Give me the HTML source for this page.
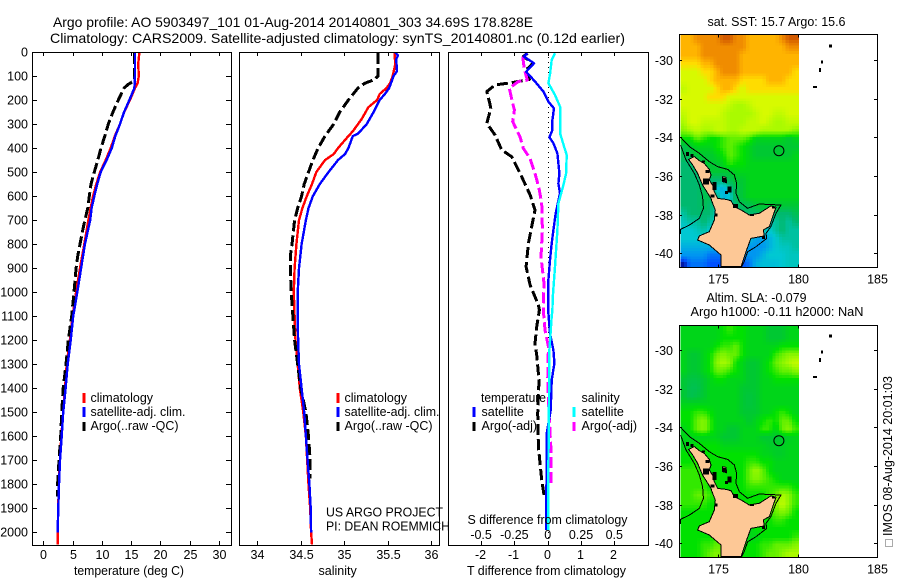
<!DOCTYPE html>
<html lang="en">
<head>
<meta charset="utf-8">
<title>Argo profile 5903497_101</title>
<style>
html,body{margin:0;padding:0;background:#fff;width:900px;height:580px;overflow:hidden}
svg{display:block}
text{font-family:"Liberation Sans",sans-serif;font-size:12.5px;fill:#000}
.title{font-size:14px}
.frame{fill:none;stroke:#000;stroke-width:1;shape-rendering:crispEdges}
.mk{stroke-width:3;shape-rendering:crispEdges}
</style>
</head>
<body>
<svg id="chart" xmlns="http://www.w3.org/2000/svg" width="900" height="580" viewBox="0 0 900 580">
  <defs>
    <clipPath id="clip-map-top"><rect x="680" y="35" width="197" height="232"/></clipPath>
    <clipPath id="clip-map-bottom"><rect x="680" y="326" width="197" height="231"/></clipPath>
    <clipPath id="clip-p1"><rect x="32" y="52" width="199" height="493"/></clipPath>
    <clipPath id="clip-p2"><rect x="239" y="52" width="200" height="493"/></clipPath>
    <clipPath id="clip-p3"><rect x="448" y="52" width="200" height="493"/></clipPath>
  </defs>

  <text class="title" x="53" y="27" textLength="480" lengthAdjust="spacingAndGlyphs">Argo profile: AO 5903497_101 01-Aug-2014 20140801_303 34.69S 178.828E</text>
  <text class="title" x="50" y="43" textLength="575" lengthAdjust="spacingAndGlyphs">Climatology: CARS2009. Satellite-adjusted climatology: synTS_20140801.nc (0.12d earlier)</text>

  <g id="map-top"></g>
  <g id="map-bottom"></g>
  <g id="panel-temp"></g>
  <g id="panel-sal"></g>
  <g id="panel-diff"></g>

  <rect class="frame" x="32.5" y="52.5" width="199" height="493"/>
  <rect class="frame" x="239.5" y="52.5" width="200" height="493"/>
  <rect class="frame" x="448.5" y="52.5" width="200" height="493"/>
  <rect class="frame" x="679.5" y="34.5" width="198" height="233"/>
  <rect class="frame" x="679.5" y="325.5" width="198" height="232"/>

  <g>
    <line class="mk" x1="84" x2="84" y1="393" y2="403" stroke="#f00"/>
    <line class="mk" x1="84" x2="84" y1="407" y2="417" stroke="#00f"/>
    <line class="mk" x1="84" x2="84" y1="422" y2="431" stroke="#000"/>
    <text x="90.5" y="402">climatology</text>
    <text x="90.5" y="416" textLength="95" lengthAdjust="spacingAndGlyphs">satellite-adj. clim.</text>
    <text x="90.5" y="430" textLength="88" lengthAdjust="spacingAndGlyphs">Argo(..raw -QC)</text>
  </g>
  <g>
    <line class="mk" x1="338" x2="338" y1="393" y2="403" stroke="#f00"/>
    <line class="mk" x1="338" x2="338" y1="407" y2="417" stroke="#00f"/>
    <line class="mk" x1="338" x2="338" y1="422" y2="431" stroke="#000"/>
    <text x="344.5" y="402">climatology</text>
    <text x="344.5" y="416" textLength="95" lengthAdjust="spacingAndGlyphs">satellite-adj. clim.</text>
    <text x="344.5" y="430" textLength="88" lengthAdjust="spacingAndGlyphs">Argo(..raw -QC)</text>
  </g>
  <g>
    <text x="481" y="402" textLength="65" lengthAdjust="spacingAndGlyphs">temperature</text>
    <line class="mk" x1="474" x2="474" y1="407" y2="417" stroke="#00f"/>
    <line class="mk" x1="474" x2="474" y1="422" y2="431" stroke="#000"/>
    <text x="481.5" y="416">satellite</text>
    <text x="481.5" y="430">Argo(-adj)</text>
    <text x="581.5" y="402">salinity</text>
    <line class="mk" x1="574" x2="574" y1="407" y2="417" stroke="#0ff"/>
    <line class="mk" x1="574" x2="574" y1="422" y2="431" stroke="#f0f"/>
    <text x="581.5" y="416">satellite</text>
    <text x="581.5" y="430">Argo(-adj)</text>
  </g>

  <text x="326" y="516.5" textLength="117" lengthAdjust="spacingAndGlyphs">US ARGO PROJECT</text>
  <text x="326" y="530.5" textLength="124" lengthAdjust="spacingAndGlyphs">PI: DEAN ROEMMICH</text>
  <text x="467.5" y="524" textLength="160" lengthAdjust="spacingAndGlyphs">S difference from climatology</text>
  <text x="74" y="575" textLength="110" lengthAdjust="spacingAndGlyphs">temperature (deg C)</text>
  <text x="318.5" y="575">salinity</text>
  <text x="467" y="575" textLength="159" lengthAdjust="spacingAndGlyphs">T difference from climatology</text>

  <text x="707.5" y="26" textLength="138" lengthAdjust="spacingAndGlyphs">sat. SST: 15.7 Argo: 15.6</text>
  <text x="706.5" y="302" textLength="100" lengthAdjust="spacingAndGlyphs">Altim. SLA: -0.079</text>
  <text x="690.5" y="316" textLength="173" lengthAdjust="spacingAndGlyphs">Argo h1000: -0.11 h2000: NaN</text>

  <rect x="885.5" y="539.5" width="7" height="7" fill="none" stroke="#555" stroke-width="1" stroke-dasharray="1 1" shape-rendering="crispEdges"/>
  <text transform="translate(892,536) rotate(-90)" textLength="160" lengthAdjust="spacingAndGlyphs">IMOS 08-Aug-2014 20:01:03</text>
</svg>

<script>
/* ---------- profile data ---------- */
const depthTicks = [0,100,200,300,400,500,600,700,800,900,1000,1100,1200,1300,1400,1500,1600,1700,1800,1900,2000];
const tempTicks = [0,5,10,15,20,25,30];
const salTicks = [34,34.5,35,35.5,36];
const salTickLabels = ['34','34.5','35','35.5','36'];
const tDiffTicks = [-2,-1,0,1,2];
const sDiffTicks = [-0.5,-0.25,0,0.25,0.5];
const sDiffTickLabels = ['-0.5','-0.25','0','0.25','0.5'];

const tempClimDepth = [0,50,100,130,150,200,250,300,350,400,450,500,550,600,650,700,800,900,1000,1100,1200,1300,1400,1500,1600,1700,1800,1900,2000,2050];
const tempClim = [16.4,16.2,16.3,16.1,15.65,14.8,13.8,13.1,12.2,11.5,10.65,9.7,9.05,8.5,8.1,7.7,7.0,6.27,5.6,5.0,4.55,4.0,3.7,3.4,3.07,2.85,2.63,2.56,2.45,2.45];
const tempSatDepth = [0,100,150,200,250,300,350,400,450,500,550,600,650,700,800,900,1000,1100,1200,1300,1400,1500,1600,1700,1800,1900,2000];
const tempSat = [15.65,15.65,15.55,14.7,13.8,13.1,12.3,11.7,10.8,9.8,9.2,8.7,8.25,8.0,7.1,6.45,5.8,5.1,4.67,4.16,3.8,3.4,3.14,2.85,2.68,2.56,2.45];
const tempArgoDepth = [5,60,115,123,135,150,200,250,300,350,400,450,500,550,600,650,700,750,800,850,900,1000,1100,1200,1300,1400,1500,1600,1700,1800,1850];
const tempArgo = [15.6,15.6,15.6,15.3,14.5,13.8,12.8,11.9,11.1,10.5,9.85,9.3,8.7,8.15,7.85,7.6,7.1,6.66,6.27,5.87,5.6,5.24,4.85,4.27,3.88,3.4,3.14,2.97,2.68,2.45,2.4];

const salClimDepth = [0,50,100,130,150,175,200,230,280,330,350,400,425,450,500,550,600,650,700,800,900,1000,1100,1200,1300,1400,1500,1600,1700,1800,1900,2000,2050];
const salClim = [35.58,35.59,35.56,35.53,35.49,35.41,35.38,35.28,35.2,35.1,35.05,34.93,34.88,34.78,34.68,34.63,34.57,34.52,34.48,34.45,34.43,34.42,34.43,34.44,34.465,34.49,34.53,34.56,34.575,34.59,34.61,34.62,34.63];
const salSatDepth = [0,15,30,80,100,150,175,200,250,300,340,350,400,425,450,500,550,600,650,700,800,900,1000,1100,1200,1300,1400,1500,1600,1700,1800,1900,2000];
const salSat = [35.59,35.62,35.6,35.61,35.57,35.52,35.47,35.41,35.34,35.26,35.16,35.1,35.05,35.01,34.93,34.82,34.72,34.64,34.59,34.56,34.51,34.48,34.465,34.465,34.47,34.48,34.51,34.54,34.56,34.58,34.6,34.615,34.62];
const salArgoDepth = [5,100,115,130,150,200,250,300,350,400,450,500,550,600,650,700,800,850,900,1000,1100,1200,1300,1400,1500,1600,1700,1775];
const salArgo = [35.39,35.39,35.35,35.24,35.16,35.05,34.95,34.88,34.78,34.7,34.64,34.59,34.54,34.51,34.465,34.43,34.4,34.38,34.38,34.39,34.41,34.43,34.465,34.5,34.56,34.59,34.61,34.61];

const dTSatDepth = [5,19,47,82,123,165,207,235,283,325,355,380,422,505,547,588,672,741,797,866,949,1032,1088,1171,1241,1296,1366,1491,1588,1699,1990];
const dTSat = [-0.61,-0.71,-0.41,-0.65,-0.38,-0.13,0.02,0.19,0.14,0.14,0.05,0.17,0.29,0.35,0.32,0.37,0.24,0.17,0.12,0.07,0.02,0.02,0.02,0.07,0.17,0.2,0.12,0.09,-0.03,-0.03,-0.05];
const dTArgoDepth = [5,19,47,78,114,128,137,165,207,235,297,346,408,436,505,595,658,727,797,894,970,1053,1074,1144,1213,1261,1366,1504,1643,1782,1844];
const dTArgo = [-0.61,-0.73,-0.43,-0.68,-0.55,-1.08,-1.58,-1.83,-1.75,-1.71,-1.83,-1.58,-1.38,-1.08,-0.83,-0.53,-0.38,-0.48,-0.58,-0.65,-0.53,-0.28,-0.25,-0.33,-0.38,-0.33,-0.26,-0.3,-0.28,-0.18,-0.11];
const dSSatDepth = [5,33,89,130,179,228,339,394,429,505,554,630,741,894,1019,1074,1102,1241,1449,1727,1990];
const dSSat = [0.055,0.03,0.018,0.005,0.055,0.093,0.093,0.123,0.143,0.138,0.118,0.08,0.073,0.055,0.038,0.035,0.03,0.013,0.01,0.005,0.005];
const dSArgoDepth = [19,61,82,117,123,151,214,241,290,353,401,443,505,568,630,741,852,963,1060,1074,1157,1227,1366,1504,1643,1810];
const dSArgo = [-0.188,-0.178,-0.17,-0.153,-0.22,-0.288,-0.263,-0.25,-0.263,-0.208,-0.183,-0.133,-0.095,-0.065,-0.045,-0.04,-0.05,-0.028,-0.033,-0.033,-0.02,0.005,0,0.01,0.023,0.023];

/* ---------- map data: colour-scale values, 18 columns x 28 rows ---------- */
const sstGrid = [
[11,11,12,12,12,12,13,13,12,12,11,11,11,11,11,12,13,13],
[11,11,11,12,12,12,12,12,12,12,11,11,11,11,11,11,12,12],
[11,11,11,12,12,12,12,12,12,11,11,11,11,11,11,11,11,11],
[10,10,10,11,11,12,12,12,12,11,11,11,11,11,11,11,11,11],
[9,9,9,10,10,11,12,12,12,11,11,11,11,11,11,11,11,10],
[9,9,9,9,10,11,11,11,11,10,10,10,10,11,11,11,10,10],
[8.5,9,9,9,9,10,11,11,10,9,10,10,10,10,10,10,10,10],
[9,9,9,9,10,10,10,9,9,9,9,9,9,9,9,9,9,9],
[9,9,9,9,9,9,9,8.5,8,8,8.5,9,9,9,9,9,9,9],
[8.5,9,9,9,9,9,8.5,8,8,8,8,8.5,9,9,8.5,8.5,9,9],
[8,9,9,8.5,8.5,8.5,8.5,8,8,8,8.5,8.5,9,8.5,8,8,8.5,8.5],
[7.5,8,8.5,8,8,8.5,8.5,8,8,8.5,8.5,8.5,8,8,8,8,8,7.5],
[6,6,7,6.5,6,6,6.5,7,7,7,6.5,5.5,5.5,5.5,5.5,5.5,5,5.5],
[4.5,5,5.5,5.5,5.5,6,6.5,7,6.5,6,5.5,5,5,5,5,5,5,5],
[4.5,4.5,5,5,5,5.5,6,7,6.5,6,5.5,5,5,5,5,5,5,5.5],
[4,4,4.5,5,5,5,5.5,6.5,6,6,5.5,5.5,5.5,5.5,5.5,5.5,5.5,5.5],
[4,4,4,4,5,5,5,5,5.5,5.5,5.5,5.5,5.5,5.5,5.5,5.5,5.5,5.5],
[4,4,4,4,4,4,4,4.5,5,5,5.5,5.5,5.5,5.5,5.5,5.5,5.5,5.5],
[4,4,4,4.5,4.5,3,2.5,3.5,4.5,5,5.5,5.5,5.5,5.5,5.5,5.5,5.5,5.5],
[4,4,4,4.5,4.5,4,2.5,3,4.5,5,5.5,5.5,5.5,5.5,5.5,5.5,5.5,5.5],
[4,4,4,4.5,4,3.5,3,3.5,4,4.5,4.5,5,5,5,5,5,5,5],
[3.5,4,4,4,4,3,3,3.5,3.5,4,4,4,4.5,4.5,4,4,4,4.5],
[3.2,3.5,3.5,4,3.5,3,3,3.5,3.5,3.5,4,4,4,3.5,3.5,4,3.5,4],
[3,3,3.2,3.5,3,3,3,3,3.5,3.5,3.5,3.5,3.5,3,3.5,4,3.5,3.5],
[3,3,3,3,2.8,2.8,3,3,3.5,3,3,2.2,2.2,2.5,3,3.5,3.5,3.5],
[2.5,2.5,2.5,2.5,2.5,2.5,2.5,3,3,2.5,2,2,2,2.5,3,3.2,3.2,3.5],
[2,2,2,2,1.5,1.5,1.5,1.5,2,2,2,2,2.5,3,3,3,3.2,3.2],
[0.3,1.5,1.5,1.5,1,1,1,1,1,1,1.5,2.5,2.8,2.8,2.8,3,3.2,3.2]
];
const slaGrid = [
[5.5,5.5,5.5,5.5,5.5,5.5,6,6.5,6,6,5.5,5.5,5.5,5,5,5,5.5,5.5],
[5.5,5.5,5.5,5.5,5.5,5.5,6,6,6,6,5.5,5.5,5.5,5,5,5,5.5,5.5],
[5.5,5.5,5.5,5.5,5.5,6,6.5,6.5,7,6,5.5,5.5,5.5,5.5,5.5,6,6,6],
[5.5,5,5,5.5,6,7,7.5,7,7,6,5.5,5.5,5.5,5.5,6.5,7,7.5,7.5],
[5.5,5,5,5.5,6,7.5,8,7.5,6,5.5,5,5,5.5,6,7,7.5,8,8.5],
[5.5,5,5,5.5,6,7,7,6.5,6,5.5,5,5,5.5,6,6.5,7,7,7.5],
[5,4.7,4.7,5,5.5,6,6,5.5,5.5,5.5,5,5,5.5,5.5,6,6,6,6],
[5,4.5,4.5,5,5.5,5.5,5.5,5.5,5.5,5,5,5,5.5,5.5,5.5,5.5,5.5,5.5],
[5,4.5,4.7,5,5.5,5.5,5.5,5.5,5.5,5,4.8,5,5.5,5.5,5.5,5.5,5.5,5.5],
[5.5,5.5,5.5,5.5,5.5,5.5,5.5,5.5,5.5,5,4.8,5,5.5,5.5,5.5,5.5,5.5,5.5],
[6,6,6.5,6.5,6,5.5,5.5,5.5,5.5,5,5,5,5.5,5.5,6,6.5,6,5.5],
[6,6,7,7.5,6.5,5.5,5.5,5.5,5.5,5.5,5,5.5,6,6.5,6,7,7,6],
[5.5,6,7,7.5,6.5,5.5,5.5,5,5,5.5,5.5,5.5,6.5,6.5,5.5,7,7.5,6.5],
[5.5,5.5,5.5,5.5,5.5,5.5,5,5,5,5.5,5.5,5.5,5,5,5,5,5.3,5.5],
[5.5,5.5,6,6,6,6,5.5,5.5,5.5,5.5,5.5,5.5,5.5,5.2,5.2,5.2,5.5,5.5],
[6,6,6,6,6,6,6,6,6,6,6,6,5.5,5.5,5.2,5.2,5.5,5.5],
[6,6,6.5,6,6,6,6,6,6,6,6.5,6.5,6,6,5.5,5.5,5.5,5.5],
[6.5,6.5,6.5,6,6,6,6,6,6,6,7,7.8,7,6,5.5,5.5,5.5,5.5],
[6.5,6.5,6.5,6.5,6,6,6,6,6,6,7,7.5,7,6.5,6,5.5,5.5,5.5],
[6.5,6.5,6.5,6.5,6,6,6,6,6,6,6.5,6.5,6.5,6.5,6.5,6.5,6.5,6],
[6.5,6.5,7,7,6.5,6,6,6,6,6,6,6,6,6.5,7,8,7.5,6.5],
[6.5,6.5,6.5,6.5,6,6,6,6,6,6,6,6,6,6.5,7.5,8.5,7.5,6.5],
[6,6,6,6,6,6,6,6,6,6,6,6,6,6.5,7,7.5,7,6],
[6,6,6,6,6,6,6,6,6,6,6,6,6,6,6.5,6.5,6,6],
[6,6,6,6,6,6,6,6,6,5.8,5.5,6,6,6,6,6,6,6],
[6,6,6,6,6,6.5,6.5,6,5.5,5.5,5.5,5.5,6,6,6,6,6,6.5],
[6,6,6,6.5,6.5,7,7,6.5,6,6,6,6,6.5,6.5,7,7,7,7.5],
[6,6,6,6.5,7,7.5,7,7,6,6,6,6,6.5,7,7,7.5,8,8]
];
const mapLonTicks = [175,180,185];
const mapLatTicks = [-30,-32,-34,-36,-38,-40];

/* ---------- geography (lon, lat) ---------- */
const landLon = [173.15,173.51,173.83,174.14,174.45,174.56,174.45,174.71,174.77,174.98,175.5,175.82,176.03,176.45,176.97,177.6,178.33,178.65,178.44,178.23,177.85,177.91,177.07,176.8,176.45,175.19,175.19,174.45,173.72,173.83,174.45,174.77,174.83,174.62,174.56,174.03,173.72,173.41];
const landLat = [-35.14,-35.0,-35.21,-35.35,-35.66,-35.95,-36.21,-36.55,-36.81,-37.16,-37.21,-37.28,-37.59,-37.76,-38.02,-37.93,-37.55,-37.62,-38.1,-38.62,-38.79,-39.1,-39.23,-39.83,-40.69,-40.69,-40.09,-39.57,-39.31,-39.1,-38.88,-38.28,-37.76,-37.33,-37.16,-36.47,-35.86,-35.43];
const peninsulaLon = [175.29,175.5,175.54,175.29];
const peninsulaLat = [-36.04,-36.07,-36.35,-36.29];
const contourEastLon = [172.65,173.2,173.83,174.45,174.98,175.61,176.03,176.17,176.13,176.34,176.86,177.6,178.33,178.96,178.65,178.33,178.02,178.06,177.39,176.86,176.65,176.45];
const contourEastLat = [-34.0,-34.48,-34.83,-35.26,-35.52,-35.66,-35.95,-36.38,-36.9,-37.33,-37.67,-37.45,-37.48,-37.5,-37.93,-38.62,-38.97,-39.23,-39.66,-39.92,-40.43,-40.73];
const contourWestLon = [172.65,172.99,173.51,173.83,174.03,174.08,173.83,173.2,172.65,172.65];
const contourWestLat = [-34.4,-35.17,-35.86,-36.47,-37.07,-37.67,-38.19,-38.54,-38.76,-39.0];
const blobLon = [173.09,173.36,174.08,174.35,174.24,174.77,174.66,175.4,175.71,175.54,176.09,177.14,178.48,177.85,174.87];
const blobLat = [-34.86,-34.93,-35.26,-35.78,-36.29,-36.52,-37.04,-36.21,-36.69,-36.86,-37.55,-38.02,-37.62,-39.17,-38.02];
const blobWidths = [3,3,3,4,6,4,4,3,4,3,5,4,3,3,3];
const blobHeights = [4,3,2,3,6,8,3,4,6,3,4,2,2,3,3];
const islandLon = [182.09,181.54,181.41,181.1];
const islandLat = [-29.28,-30.1,-30.52,-31.4];
const islandWidths = [3,2,2,4];
const islandHeights = [3,3,4,2];
const floatLon = 178.828;
const floatLat = -34.69;

/* ---------- colour scale stops ---------- */
const scaleR = [0,0,0,0,0,0,0,100,170,215,255,255,240,210];
const scaleG = [0,80,150,200,185,200,225,240,250,250,220,180,140,90];
const scaleB = [128,255,240,210,110,50,0,0,0,0,0,0,0,0];

/* ---------- axis functions ---------- */
const yDepth = d => 52 + 0.2402 * d;
const xTemp = t => 43.3 + 5.857 * t;
const xSal = s => 257.3 + 86.8 * (s - 34);
const xDT = t => 547.7 + 33.3 * t;
const xDS = s => 547.7 + 133.2 * s;
const lonX = lon => 718 + 15.9 * (lon - 175);
const latY = (lat, y30) => y30 + 19.33 * (-30 - lat);

const NS = 'http://www.w3.org/2000/svg';
function mk(tag, parent) {
  const el = document.createElementNS(NS, tag);
  parent.appendChild(el);
  return el;
}
function colourFor(v) {
  const i = Math.max(0, Math.min(scaleR.length - 2, Math.floor(v)));
  const f = Math.max(0, Math.min(1, v - i));
  const m = (a) => Math.round(a[i] + (a[i + 1] - a[i]) * f);
  return 'rgb(' + m(scaleR) + ',' + m(scaleG) + ',' + m(scaleB) + ')';
}
function polyPoints(xs, ys, fx, fy) {
  return xs.map((x, i) => fx(x).toFixed(1) + ',' + fy(ys[i]).toFixed(1)).join(' ');
}
function drawProfile(parent, clip, name, xs, ds, fx, colour, width, dash) {
  const line = mk('polyline', parent);
  
  
  line.setAttribute('points', polyPoints(xs, ds, fx, yDepth));
  line.setAttribute('fill', 'none');
  line.setAttribute('stroke', colour);
  line.setAttribute('stroke-width', width);
  line.setAttribute('stroke-linejoin', 'round');
  line.setAttribute('shape-rendering', 'crispEdges');
  line.setAttribute('clip-path', 'url(#' + clip + ')');
  if (dash) line.setAttribute('stroke-dasharray', dash);
}
function tick(parent, x1, y1, x2, y2) {
  const t = mk('line', parent);
  
  
  t.setAttribute('x1', x1);
  t.setAttribute('y1', y1);
  t.setAttribute('x2', x2);
  t.setAttribute('y2', y2);
  t.setAttribute('stroke', '#000');
  t.setAttribute('shape-rendering', 'crispEdges');
}
function label(parent, str, x, y, anchor) {
  const t = mk('text', parent);
  
  
  t.setAttribute('x', x);
  t.setAttribute('y', y);
  t.setAttribute('text-anchor', anchor);
  t.textContent = str;
}

/* ---------- temperature panel ---------- */
const pT = document.getElementById('panel-temp');
drawProfile(pT, 'clip-p1', 'temperature-climatology-line', tempClim, tempClimDepth, xTemp, '#f00', 2.4);
drawProfile(pT, 'clip-p1', 'temperature-argo-line', tempArgo, tempArgoDepth, xTemp, '#000', 3, '11 4');
drawProfile(pT, 'clip-p1', 'temperature-satellite-line', tempSat, tempSatDepth, xTemp, '#00f', 2.4);
depthTicks.forEach(d => {
  const y = Math.round(yDepth(d)) + 0.5;
  tick(pT, 32, y, 37, y);
  tick(pT, 226, y, 231, y);
  label(pT, String(d), 28, y + 4, 'end');
});
tempTicks.forEach(t => {
  const x = Math.round(xTemp(t)) + 0.5;
  tick(pT, x, 52, x, 56);
  tick(pT, x, 541, x, 545);
  label(pT, String(t), x, 559, 'middle');
});

/* ---------- salinity panel ---------- */
const pS = document.getElementById('panel-sal');
drawProfile(pS, 'clip-p2', 'salinity-climatology-line', salClim, salClimDepth, xSal, '#f00', 2.4);
drawProfile(pS, 'clip-p2', 'salinity-argo-line', salArgo, salArgoDepth, xSal, '#000', 3, '11 4');
drawProfile(pS, 'clip-p2', 'salinity-satellite-line', salSat, salSatDepth, xSal, '#00f', 2.4);
salTicks.forEach((s, i) => {
  const x = Math.round(xSal(s)) + 0.5;
  tick(pS, x, 52, x, 56);
  tick(pS, x, 541, x, 545);
  label(pS, salTickLabels[i], x, 559, 'middle');
});

/* ---------- difference panel ---------- */
const pD = document.getElementById('panel-diff');
const zero = mk('line', pD);


zero.setAttribute('x1', 548.5);
zero.setAttribute('x2', 548.5);
zero.setAttribute('y1', 52);
zero.setAttribute('y2', 545);
zero.setAttribute('stroke', '#000');
zero.setAttribute('stroke-dasharray', '1 4');
zero.setAttribute('shape-rendering', 'crispEdges');
drawProfile(pD, 'clip-p3', 't-argo-difference-line', dTArgo, dTArgoDepth, xDT, '#000', 3, '11 4');
drawProfile(pD, 'clip-p3', 's-argo-difference-line', dSArgo, dSArgoDepth, xDS, '#f0f', 3, '11 4');
drawProfile(pD, 'clip-p3', 't-satellite-difference-line', dTSat, dTSatDepth, xDT, '#00f', 2.4);
drawProfile(pD, 'clip-p3', 's-satellite-difference-line', dSSat, dSSatDepth, xDS, '#0ff', 2.4);
tDiffTicks.forEach(t => {
  const x = Math.round(xDT(t)) + 0.5;
  tick(pD, x, 52, x, 56);
  tick(pD, x, 541, x, 545);
  label(pD, String(t), x - 1, 559, 'middle');
});
sDiffTicks.forEach((s, i) => {
  label(pD, sDiffTickLabels[i], xDS(s), 539, 'middle');
});

/* ---------- maps ---------- */
function sampleGrid(grid, r, c) {
  const rows = grid.length;
  const cols = grid[0].length;
  const r0 = Math.max(0, Math.min(rows - 1, Math.floor(r)));
  const c0 = Math.max(0, Math.min(cols - 1, Math.floor(c)));
  const r1 = Math.min(rows - 1, r0 + 1);
  const c1 = Math.min(cols - 1, c0 + 1);
  const fr = Math.max(0, Math.min(1, r - r0));
  const fc = Math.max(0, Math.min(1, c - c0));
  const top = grid[r0][c0] * (1 - fc) + grid[r0][c1] * fc;
  const bot = grid[r1][c0] * (1 - fc) + grid[r1][c1] * fc;
  return top * (1 - fr) + bot * fr;
}
function drawMap(id, grid, top, bottom, y30, clip, prefix) {
  const g = document.getElementById(id);
  const subCols = 2;
  const subRows = 3;
  const rows = grid.length * subRows;
  const cols = grid[0].length * subCols;
  const lonL = 172.65;
  const lonR = 180.07;
  const cw = (lonX(lonR) - lonX(lonL)) / cols;
  const ch = (bottom - top) / rows;
  for (let r = 0; r < rows; r++) {
    for (let c = 0; c < cols; c++) {
      const v = sampleGrid(grid, (r + 0.5) / subRows - 0.5, (c + 0.5) / subCols - 0.5);
      const cell = mk('rect', g);
      
      
      cell.setAttribute('x', (lonX(lonL) + c * cw).toFixed(2));
      cell.setAttribute('y', (top + r * ch).toFixed(2));
      cell.setAttribute('width', (cw + 0.4).toFixed(2));
      cell.setAttribute('height', (ch + 0.4).toFixed(2));
      cell.setAttribute('fill', colourFor(v));
      cell.setAttribute('shape-rendering', 'crispEdges');
    }
  }
  const fy = lat => latY(lat, y30);
  const land = mk('polygon', g);
  
  
  land.setAttribute('points', polyPoints(landLon, landLat, lonX, fy));
  land.setAttribute('fill', '#fdc896');
  land.setAttribute('stroke', '#000');
  land.setAttribute('stroke-width', 1);
  land.setAttribute('shape-rendering', 'crispEdges');
  land.setAttribute('clip-path', 'url(#' + clip + ')');
  const pen = mk('polygon', g);
  
  
  pen.setAttribute('points', polyPoints(peninsulaLon, peninsulaLat, lonX, fy));
  pen.setAttribute('fill', '#fdc896');
  pen.setAttribute('stroke', '#000');
  pen.setAttribute('shape-rendering', 'crispEdges');
  const cE = mk('polyline', g);
  
  
  cE.setAttribute('points', polyPoints(contourEastLon, contourEastLat, lonX, fy));
  cE.setAttribute('fill', 'none');
  cE.setAttribute('stroke', '#000');
  cE.setAttribute('shape-rendering', 'crispEdges');
  cE.setAttribute('clip-path', 'url(#' + clip + ')');
  const cW = mk('polyline', g);
  
  
  cW.setAttribute('points', polyPoints(contourWestLon, contourWestLat, lonX, fy));
  cW.setAttribute('fill', 'none');
  cW.setAttribute('stroke', '#000');
  cW.setAttribute('shape-rendering', 'crispEdges');
  cW.setAttribute('clip-path', 'url(#' + clip + ')');
  blobLon.forEach((lon, i) => {
    const b = mk('rect', g);
    
    
    b.setAttribute('x', (lonX(lon) - blobWidths[i] / 2).toFixed(1));
    b.setAttribute('y', (fy(blobLat[i]) - blobHeights[i] / 2).toFixed(1));
    b.setAttribute('width', blobWidths[i]);
    b.setAttribute('height', blobHeights[i]);
    b.setAttribute('fill', '#000');
    b.setAttribute('shape-rendering', 'crispEdges');
  });
  islandLon.forEach((lon, i) => {
    const b = mk('rect', g);
    
    
    b.setAttribute('x', (lonX(lon) - islandWidths[i] / 2).toFixed(1));
    b.setAttribute('y', (fy(islandLat[i]) - islandHeights[i] / 2).toFixed(1));
    b.setAttribute('width', islandWidths[i]);
    b.setAttribute('height', islandHeights[i]);
    b.setAttribute('fill', '#000');
    b.setAttribute('shape-rendering', 'crispEdges');
  });
  const circ = mk('circle', g);
  
  
  circ.setAttribute('cx', lonX(floatLon).toFixed(1));
  circ.setAttribute('cy', fy(floatLat).toFixed(1));
  circ.setAttribute('r', 5);
  circ.setAttribute('fill', 'none');
  circ.setAttribute('stroke', '#000');
  mapLonTicks.forEach(lon => {
    const x = Math.round(lonX(lon)) + 0.5;
    tick(g, x, top, x, top + 3);
    tick(g, x, bottom - 3, x, bottom);
    label(g, String(lon), x, bottom + 16, 'middle');
  });
  mapLatTicks.forEach(lat => {
    const y = Math.round(fy(lat)) + 0.5;
    tick(g, 679, y, 682, y);
    tick(g, 874, y, 877, y);
    label(g, String(lat), 673, y + 4.5, 'end');
  });
}
drawMap('map-top', sstGrid, 34.5, 267.5, 60, 'clip-map-top', 'sst');
drawMap('map-bottom', slaGrid, 325.5, 557.5, 350, 'clip-map-bottom', 'sla');
</script>
</body>
</html>
